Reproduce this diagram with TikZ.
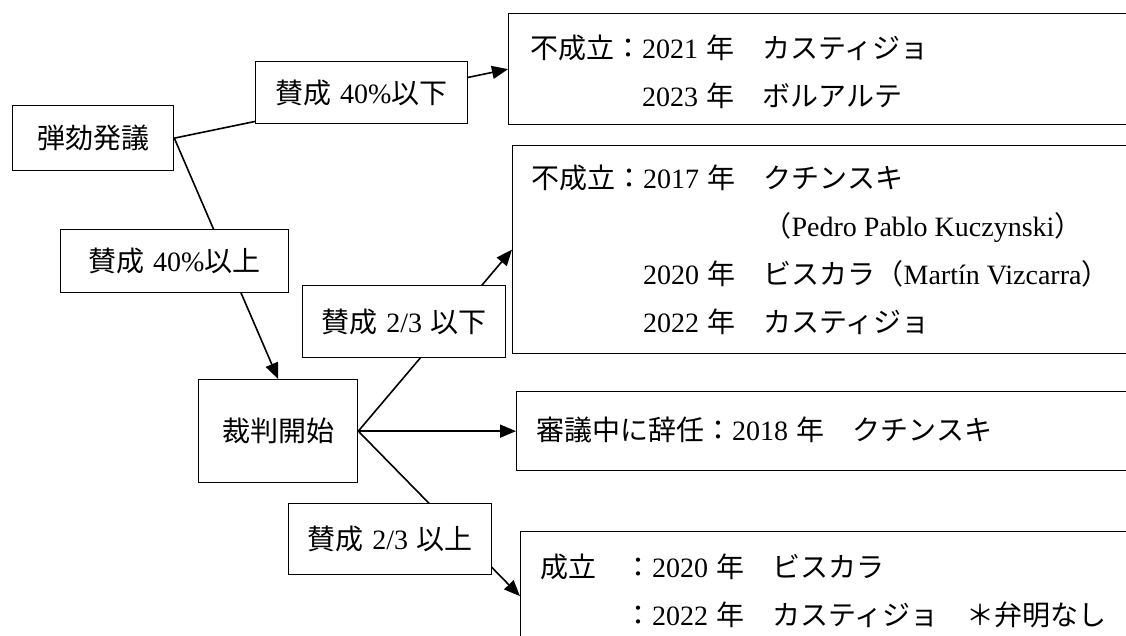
\documentclass[tikz,border=0pt]{standalone}
\usepackage{fontspec}
\setmainfont{Liberation Serif}
\newfontfamily\jp{Noto Sans CJK JP}
\usetikzlibrary{arrows.meta,backgrounds}
\newcommand\jg{\hspace{0.3em}}
\begin{document}
\begin{tikzpicture}[x=1pt,y=-1pt,
  box/.style={draw,line width=1.3pt,fill=white,inner sep=0pt,anchor=north west,
              font=\fontsize{28}{48}\selectfont},
  conn/.style={line width=1.6pt},
  arr/.style={conn,-{Triangle[length=16pt,width=13pt]}},
  txt/.style={inner sep=0pt,anchor=base west,font=\fontsize{28}{48}\selectfont},
]
\useasboundingbox (0,0) rectangle (1126,636);
\clip (0,0) rectangle (1126,636);

% label boxes
\node[box,minimum width=161pt,minimum height=65pt] (A) at (12,105) {\jp 弾劾発議};
\node[box,minimum width=212pt,minimum height=62pt] (B) at (255,61) {{\jp 賛成}\jg 40\%{\jp 以下}};
\node[box,minimum width=228pt,minimum height=63pt] (D) at (60,229) {{\jp 賛成}\jg 40\%{\jp 以上}};
\node[box,minimum width=159pt,minimum height=103pt] (E) at (198,379) {\jp 裁判開始};
\node[box,minimum width=203pt,minimum height=72pt] (F) at (302,285) {{\jp 賛成}\jg 2/3\jg{\jp 以下}};
\node[box,minimum width=203pt,minimum height=71pt] (H) at (288,503) {{\jp 賛成}\jg 2/3\jg{\jp 以上}};

% result boxes
\node[box,minimum width=632pt,minimum height=111pt] (C) at (508,13) {};
\node[box,minimum width=628pt,minimum height=208pt] (C2) at (512,145) {};
\node[box,minimum width=624pt,minimum height=79pt] (G) at (516,391) {};
\node[box,minimum width=620pt,minimum height=129pt] (K) at (520,531) {};

% texts of result boxes
\node[txt] (Ct) at (530,58.5) {\begin{tabular}[t]{@{}l@{}l@{}}
{\jp 不成立：}&2021\jg{\jp 年　カスティジョ}\\
&2023\jg{\jp 年　ボルアルテ}
\end{tabular}};
\node[txt] (C2t) at (531,188.5) {\begin{tabular}[t]{@{}l@{}l@{}}
{\jp 不成立：}&2017\jg{\jp 年　クチンスキ}\\
&\phantom{2017\jg{\jp 年　}}{\jp （}Pedro Pablo Kuczynski{\jp ）}\\
&2020\jg{\jp 年　ビスカラ（}Martín Vizcarra{\jp ）}\\
&2022\jg{\jp 年　カスティジョ}
\end{tabular}};
\node[txt] (Gt) at (536,440.5) {{\jp 審議中に辞任：}2018\jg{\jp 年　クチンスキ}};
\node[txt] (Kt) at (540,577.5) {\begin{tabular}[t]{@{}l@{}l@{}}
{\jp 成立　}&{\jp ：}2020\jg{\jp 年　ビスカラ}\\
&{\jp ：}2022\jg{\jp 年　カスティジョ　＊弁明なし}
\end{tabular}};

% connectors
\begin{scope}[on background layer]
\draw[arr] (A.east) -- (C.west);
\draw[arr] (A.east) -- (E.north);
\draw[arr] (E.east) -- (C2.west);
\draw[arr] (E.east) -- (G.west);
\draw[arr] (E.east) -- (K.west);
\end{scope}
\end{tikzpicture}
\end{document}
